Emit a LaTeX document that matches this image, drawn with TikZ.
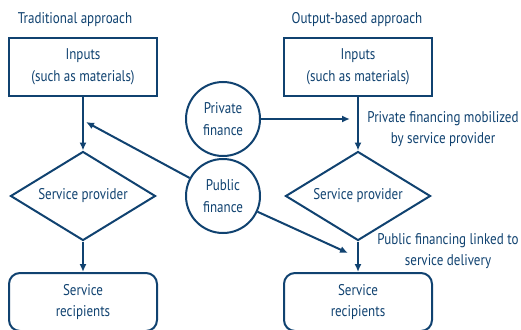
\documentclass[tikz,border=0pt]{standalone}
\usepackage{fontspec}
\setmainfont{PT Sans}[FakeStretch=0.84]
\usetikzlibrary{arrows.meta,shapes.geometric}
\definecolor{obablue}{RGB}{16,66,112}
\tikzset{
  box/.style={draw=obablue,line width=2pt,minimum width=148pt,minimum height=58pt,
    align=center,text=obablue,inner sep=0pt},
  recip/.style={box,rounded corners=11pt},
  provider/.style={draw=obablue,line width=2pt,diamond,aspect=1.6,minimum width=145pt,
    minimum height=89pt,inner sep=0pt,text=obablue},
  fin/.style={draw=obablue,line width=2pt,circle,minimum size=74pt,align=center,
    text=obablue,inner sep=0pt},
  flow/.style={draw=obablue,line width=2pt,-{Latex[length=8pt,width=7pt]}},
  lbl/.style={text=obablue,align=center,inner sep=0pt}
}

\begin{document}
\begin{tikzpicture}[x=1pt,y=-1pt,font=\fontsize{15.5}{21.5}\selectfont]
  \clip (0,0) rectangle (521,329);
  % titles
  \node[lbl] (ttrad) at (75,20) {Traditional approach};
  \node[lbl] (tout) at (357,20) {Output-based approach};
  % traditional approach
  \node[box] (inleft) at (83,67) {Inputs\\(such as materials)};
  \node[provider] (spleft) at (83,196) {Service provider};
  \node[recip] (recleft) at (83,302) {Service\\recipients};
  % output-based approach
  \node[box] (inright) at (358,67) {Inputs\\(such as materials)};
  \node[provider] (spright) at (358,196) {Service provider};
  \node[recip] (recright) at (358,302) {Service\\recipients};
  % finance
  \node[fin] (private) at (223,119) {Private\\finance};
  \node[fin] (public) at (223,196) {Public\\finance};
  \coordinate (hitleft) at (86,122);
  \coordinate (hitpriv) at (350,119);
  \coordinate (hitpub) at (348,253);
  \draw[flow] (inleft) -- (spleft);
  \draw[flow] (spleft) -- (recleft);
  \draw[flow] (inright) -- (spright);
  \draw[flow] (spright) -- (recright);
  \draw[flow] (private) -- (hitpriv);
  \draw[flow] (public) -- (hitleft);
  \draw[flow] (public) -- (hitpub);
  % labels
  \node[lbl] (lblpriv) at (443,129) {Private financing mobilized\\by service provider};
  \node[lbl] (lblpub) at (448,251) {Public financing linked to\\service delivery};
\end{tikzpicture}
\end{document}
